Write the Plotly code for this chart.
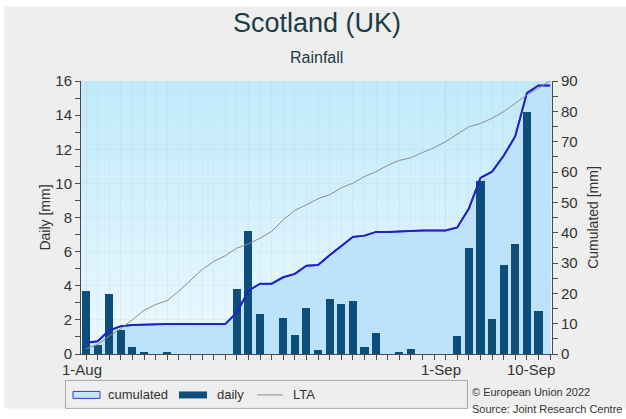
import pandas as pd
import plotly.graph_objects as go

# Days from 1 August to 10 September 2022
dates = pd.date_range("2022-08-01", "2022-09-10", freq="D")

# Daily rainfall [mm]
daily = [3.72, 0.50, 3.53, 1.42, 0.41, 0.14, 0.00, 0.14, 0.00, 0.00,
         0.00, 0.00, 0.00, 3.80, 7.20, 2.34, 0.00, 2.10, 1.11, 2.71,
         0.23, 3.22, 2.92, 3.12, 0.41, 1.23, 0.00, 0.14, 0.31, 0.00,
         0.00, 0.00, 1.03, 6.22, 10.12, 2.05, 5.24, 6.45, 14.21, 2.51,
         0.00]

# Cumulated rainfall since 1 August [mm]
cumulated = [3.72, 4.22, 7.75, 9.17, 9.58, 9.72, 9.72, 9.86, 9.86, 9.86,
             9.86, 9.86, 9.86, 13.66, 20.86, 23.20, 23.20, 25.30, 26.41, 29.12,
             29.35, 32.57, 35.49, 38.61, 39.02, 40.25, 40.25, 40.39, 40.70, 40.70,
             40.70, 40.70, 41.73, 47.95, 58.07, 60.12, 65.36, 71.81, 86.02, 88.53,
             88.53]

# Long-term average of cumulated rainfall [mm]
lta = [1.7, 3.1, 5.9, 8.3, 11.3, 14.4, 16.3, 17.6, 20.7, 24.3,
       27.8, 30.5, 32.4, 34.9, 36.3, 38.2, 40.4, 44.2, 47.4, 49.2,
       51.2, 52.5, 54.8, 56.3, 58.5, 60.1, 62.2, 63.8, 64.7, 66.4,
       68.0, 70.0, 72.5, 74.9, 76.0, 77.7, 79.9, 82.6, 85.4, 87.6,
       90.1]

tick_dates = ["2022-08-01", "2022-09-01", "2022-09-10"]
tick_text = ["1-Aug", "1-Sep", "10-Sep"]
tick_nudge = [-4, -5, -19]   # horizontal label offsets in px

FONT = "Liberation Sans, Arial, sans-serif"
TXT = "#333333"
AXIS = "#4a4a4a"
GRID = "rgba(175,195,210,0.18)"
DAY_MS = 86400000

CUM_FILL = "#bde3fa"
CUM_LINE = "#2222cc"
BAR_COL = "#0d4e7a"
LTA_COL = "#8c8c8c"

fig = go.Figure()

# cumulated area (bottom layer)
fig.add_trace(go.Scatter(
    x=dates, y=cumulated, name="cumulated", yaxis="y",
    mode="lines", fill="tozeroy", fillcolor=CUM_FILL,
    line=dict(color=CUM_LINE, width=1.5), showlegend=False,
))

# daily bars
fig.add_trace(go.Bar(
    x=dates, y=daily, name="daily", yaxis="y2",
    marker=dict(color=BAR_COL, line=dict(width=0)),
    width=0.7 * DAY_MS, showlegend=False,
))

# cumulated line and long-term average on top
fig.add_trace(go.Scatter(
    x=dates, y=cumulated, name="cumulated", yaxis="y3", showlegend=False,
    mode="lines", line=dict(color=CUM_LINE, width=2),
))
fig.add_trace(go.Scatter(
    x=dates, y=lta, name="LTA", yaxis="y3", showlegend=False,
    mode="lines", line=dict(color=LTA_COL, width=1),
))

# plot-area gradient (light cyan at top fading to near white at the bottom)
top = (192, 234, 251)
bottom = (236, 249, 254)
n_bands = 40
shapes = []
for i in range(n_bands):
    t = i / (n_bands - 1)
    c = tuple(round(bottom[k] + (top[k] - bottom[k]) * t) for k in range(3))
    shapes.append(dict(
        type="rect", xref="x domain", yref="y domain",
        x0=0, x1=1, y0=i / n_bands, y1=min(1, (i + 1.05) / n_bands),
        fillcolor="rgb(%d,%d,%d)" % c, line=dict(width=0), layer="below",
    ))

# grey panel behind the whole chart
shapes.insert(0, dict(
    type="rect", xref="paper", yref="paper",
    x0=-0.163, x1=1.2, y0=-0.2, y1=1.273,
    fillcolor="#eeeeee", line=dict(width=0), layer="below",
))


# legend: frame, key symbols and labels (paper coordinates from pixel offsets)
def px(xp):
    return (xp - 81) / 471


def py(yp):
    return (354.5 - yp) / 273.5


shapes.append(dict(type="rect", xref="paper", yref="paper",
                   x0=px(65.5), x1=px(467.5), y0=py(409), y1=py(381),
                   line=dict(color="#a8a8a8", width=1)))
shapes.append(dict(type="rect", xref="paper", yref="paper",
                   x0=px(73), x1=px(100), y0=py(399), y1=py(392),
                   fillcolor="#c6e6fb", line=dict(color="#3a3ad8", width=1)))
shapes.append(dict(type="rect", xref="paper", yref="paper",
                   x0=px(179), x1=px(207), y0=py(399), y1=py(392),
                   fillcolor=BAR_COL, line=dict(width=0)))
shapes.append(dict(type="line", xref="paper", yref="paper",
                   x0=px(257), x1=px(283), y0=py(395.5), y1=py(395.5),
                   line=dict(color=LTA_COL, width=1)))

annotations = [
    dict(text="Scotland (UK)", x=0.501, y=1.2107, xref="paper", yref="paper",
         showarrow=False, font=dict(family=FONT, size=27, color="#1c3c46"),
         xanchor="center", yanchor="middle"),
    dict(text="Rainfall", x=0.501, y=1.0866, xref="paper", yref="paper",
         showarrow=False, font=dict(family=FONT, size=16, color="#1c3c46"),
         xanchor="center", yanchor="middle"),
    dict(text="© European Union 2022", x=px(470), y=py(393), xref="paper", yref="paper",
         showarrow=False, font=dict(family=FONT, size=11, color=TXT),
         xanchor="left", yanchor="middle"),
    dict(text="Source: Joint Research Centre", x=px(470), y=py(410), xref="paper", yref="paper",
         showarrow=False, font=dict(family=FONT, size=11, color=TXT),
         xanchor="left", yanchor="middle"),
]
for label, xl in (("cumulated", 106), ("daily", 215), ("LTA", 291)):
    annotations.append(dict(
        text=label, x=px(xl), y=py(395.5), xref="paper", yref="paper",
        showarrow=False, font=dict(family=FONT, size=13, color=TXT),
        xanchor="left", yanchor="middle",
    ))
# date labels under the x axis
for d, label, dx in zip(tick_dates, tick_text, tick_nudge):
    annotations.append(dict(
        text=label, x=d, xref="x", y=py(370.5), yref="paper", xshift=dx,
        showarrow=False, font=dict(family=FONT, size=15, color=TXT),
        xanchor="center", yanchor="middle",
    ))

fig.update_layout(
    width=626, height=419,
    margin=dict(l=81, r=74, t=81, b=64.5, pad=0),
    paper_bgcolor="white",
    plot_bgcolor="rgba(0,0,0,0)",
    font=dict(family=FONT, size=14, color=TXT),
    bargap=0,
    shapes=shapes,
    annotations=annotations,
    showlegend=False,
    xaxis=dict(
        type="date",
        range=["2022-07-31 13:40", "2022-09-10 04:00"],
        tickmode="array", tickvals=tick_dates, ticktext=tick_text,
        showticklabels=False,
        ticks="outside", ticklen=5, tickcolor=AXIS,
        showline=True, linecolor=AXIS, linewidth=1,
        showgrid=True, gridcolor=GRID,
        minor=dict(dtick=DAY_MS, tick0="2022-08-01", ticks="outside",
                   ticklen=5, tickcolor=AXIS, showgrid=True, gridcolor=GRID),
        zeroline=False, fixedrange=True,
    ),
    # cumulated axis (right)
    yaxis=dict(
        range=[0, 90], side="right", dtick=10,
        ticks="outside", ticklen=5, tickcolor=AXIS,
        showline=True, linecolor=AXIS, linewidth=1,
        showgrid=False, zeroline=False,
        minor=dict(dtick=5, ticks="outside", ticklen=5, tickcolor=AXIS),
        tickfont=dict(size=15, color=TXT),
        title=dict(text="Cumulated [mm]", font=dict(size=14, color=TXT), standoff=11),
    ),
    # daily axis (left)
    yaxis2=dict(
        range=[0, 16], side="left", overlaying="y", dtick=2,
        ticks="outside", ticklen=5, tickcolor=AXIS,
        showline=True, linecolor=AXIS, linewidth=1,
        showgrid=True, gridcolor=GRID, zeroline=False,
        minor=dict(dtick=1, ticks="outside", ticklen=5, tickcolor=AXIS),
        tickfont=dict(size=15, color=TXT),
        title=dict(text="Daily [mm]", font=dict(size=14, color=TXT), standoff=1),
    ),
    yaxis3=dict(range=[0, 90], overlaying="y", visible=False),
)

fig.write_html("out.html")
